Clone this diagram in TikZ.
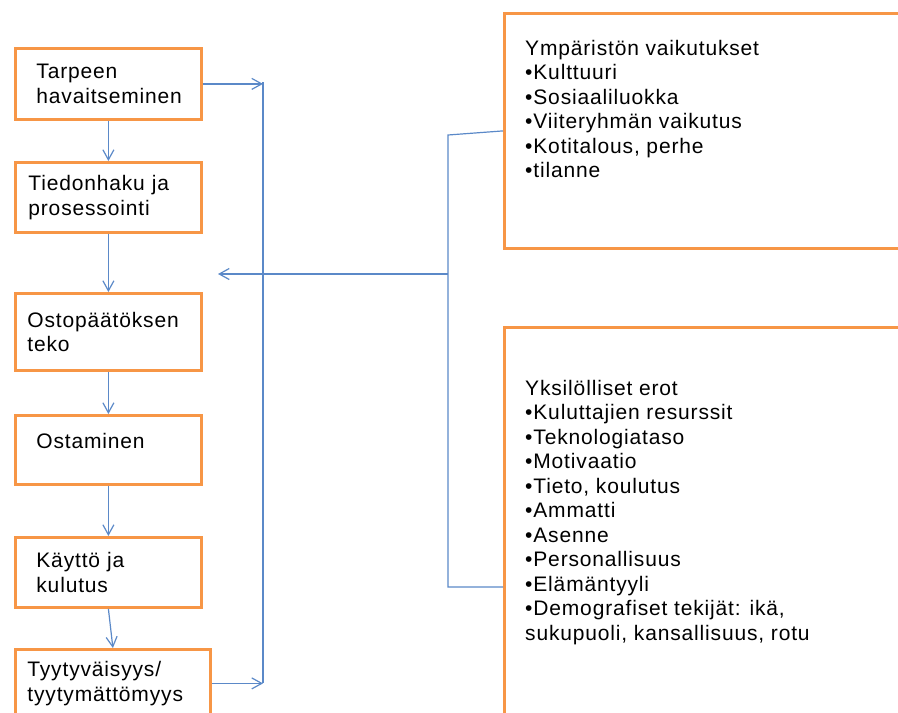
\documentclass[tikz,border=0pt]{standalone}
\usepackage{fontspec}
\setmainfont{Liberation Sans}[LetterSpace=4]
\usetikzlibrary{arrows.meta,positioning}
\definecolor{BoxOrange}{HTML}{F79646}
\definecolor{LinkBlue}{HTML}{5B89C8}

\begin{document}
\begin{tikzpicture}[x=1pt,y=-1pt,
  stage/.style={draw=BoxOrange,line width=2.8pt,anchor=north west,align=left,
    inner ysep=0pt,font=\fontsize{21}{24.5}\selectfont},
  infobox/.style={draw=BoxOrange,line width=2.8pt,anchor=north west,
    minimum width=460pt,inner sep=0pt},
  infotext/.style={anchor=north west,align=left,inner sep=0pt,
    font=\fontsize{21}{24.5}\selectfont},
  link/.style={draw=LinkBlue,line width=1.2pt},
  flow/.style={link,-{Straight Barb[length=10pt,width=11pt]}}]
  \path[use as bounding box,clip] (0,0) rectangle (898,713);

  % process stages
  \node[stage,inner xsep=21pt,text width=144pt,minimum height=71pt] (need) at (14,47)
    {Tarpeen\\havaitseminen};
  \node[stage,inner xsep=13pt,text width=160pt,minimum height=70pt] (search) at (14,161)
    {Tiedonhaku ja\\prosessointi};
  \node[stage,inner xsep=12pt,text width=162pt,minimum height=77pt] (decide) at (14,292)
    {Ostop\"a\"at\"oksen\\teko};
  \node[stage,inner xsep=21pt,text width=144pt,minimum height=69pt,text depth=18pt] (buy) at (14,414)
    {Ostaminen};
  \node[stage,inner xsep=21pt,text width=144pt,minimum height=70pt] (use) at (14,536)
    {K\"aytt\"o ja\\kulutus};
  \node[stage,inner xsep=12pt,text width=171pt,minimum height=68pt] (satis) at (14,648)
    {Tyytyv\"aisyys/\\tyytym\"att\"omyys};

  % influence boxes
  \node[infobox,minimum height=235pt] (envbox) at (503,12) {};
  \node[infotext] (envtext) at ([xshift=22pt,yshift=-28pt]envbox.north west)
    {Ymp\"arist\"on vaikutukset\\
     •Kulttuuri\\
     •Sosiaaliluokka\\
     •Viiteryhm\"an vaikutus\\
     •Kotitalous, perhe\\
     •tilanne};
  \node[infobox,minimum height=460pt] (indbox) at (503,326) {};
  \node[infotext] (indtext) at ([xshift=22pt,yshift=-54pt]indbox.north west)
    {Yksil\"olliset erot\\
     •Kuluttajien resurssit\\
     •Teknologiataso\\
     •Motivaatio\\
     •Tieto, koulutus\\
     •Ammatti\\
     •Asenne\\
     •Personallisuus\\
     •El\"am\"antyyli\\
     •Demografiset tekij\"at: ik\"a,\\
     sukupuoli, kansallisuus, rotu};

  % flow between stages
  \draw[flow] (need) -- (search);
  \draw[flow] (search) -- (decide);
  \draw[flow] (decide) -- (buy);
  \draw[flow] (buy) -- (use);
  \draw[flow] (use.south) -- (satis.north);

  % feedback loop
  \coordinate (looptop) at (263,82);
  \coordinate (loopbot) at (263,683);
  \draw[flow] (need.east) -- (need.east -| looptop);
  \draw[flow] (satis.east) -- (satis.east -| loopbot);
  \draw[link] (looptop) -- (loopbot);

  % influences
  \coordinate (brtop) at (448,135);
  \coordinate (brbot) at (448,587);
  \coordinate (hub) at (448,274);
  \coordinate (target) at (218,274);
  \draw[link] (envbox.west) -- (brtop) -- (brbot) -- (brbot -| indbox.west);
  \draw[flow] (hub) -- (target);
\end{tikzpicture}
\end{document}
